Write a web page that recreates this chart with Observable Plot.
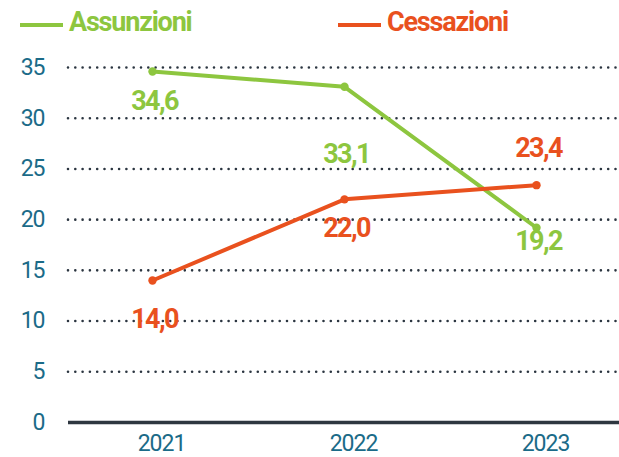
<!DOCTYPE html>
<html>
<head>
<meta charset="utf-8">
<script src="https://cdn.jsdelivr.net/npm/d3@7"></script>
<script src="https://cdn.jsdelivr.net/npm/@observablehq/plot@0.6"></script>
<style>
  body { margin: 0; background: #fff; font-family: Roboto, sans-serif; }
  #legend { position: relative; height: 45px; width: 619px; }
  .sw { position: absolute; height: 4px; top: 23px; }
  .lt { position: absolute; top: 9px; font-size: 27px; line-height: 27px; font-weight: bold; white-space: nowrap; letter-spacing: -1.2px; }
  svg { display: block; }
  svg g[aria-label="text"] text { letter-spacing: -1.6px; }
  svg g[aria-label="x-axis tick label"] text, svg g[aria-label="y-axis tick label"] text { letter-spacing: -1px; }
</style>
</head>
<body>
<div id="legend"></div>
<div id="chart"></div>
<script>
const years = ["2021", "2022", "2023"];
const assunzioni = [34.6, 33.1, 19.2];
const cessazioni = [14.0, 22.0, 23.4];
const seriesNames = ["Assunzioni", "Cessazioni"];
const yTicks = [0, 5, 10, 15, 20, 25, 30, 35];

const colors = {Assunzioni: "#8dc63f", Cessazioni: "#e9511e"};
// label vertical offsets (px) relative to each point
const labelDy = {Assunzioni: [30, 68, 14], Cessazioni: [39, 29, -37]};

const data = [];
years.forEach((yr, i) => {
  data.push({year: yr, series: "Assunzioni", value: assunzioni[i], i});
  data.push({year: yr, series: "Cessazioni", value: cessazioni[i], i});
});
const fmt = v => v.toFixed(1).replace(".", ",");

// legend
const legend = document.getElementById("legend");
const legendPos = [{line: 20, text: 69}, {line: 338, text: 387}];
seriesNames.forEach((s, k) => {
  const sw = document.createElement("div");
  sw.className = "sw";
  sw.style.left = legendPos[k].line + "px";
  sw.style.width = "43px";
  sw.style.background = colors[s];
  legend.appendChild(sw);
  const t = document.createElement("div");
  t.className = "lt";
  t.style.left = legendPos[k].text + "px";
  t.style.color = colors[s];
  t.textContent = s;
  legend.appendChild(t);
});

const labelMarks = seriesNames.flatMap(s => years.map((yr, i) =>
  Plot.text(data.filter(d => d.series === s && d.i === i), {
    x: "year", y: "value", text: d => fmt(d.value),
    dy: labelDy[s][i], dx: 2,
    fill: colors[s], fontSize: 27, fontWeight: "bold"
  })
));

const chart = Plot.plot({
  width: 619,
  height: 412,
  marginTop: 22,
  marginBottom: 35,
  marginLeft: 68,
  marginRight: 0,
  style: {fontFamily: "Roboto, sans-serif", background: "#fff"},
  x: {type: "point", domain: years, padding: 0.431, label: null},
  y: {domain: [0, 35], label: null},
  marks: [
    Plot.ruleY(yTicks.filter(t => t > 0), {
      stroke: "#2b3540", strokeWidth: 2.6, strokeDasharray: "0 7.3", strokeLinecap: "round"
    }),
    Plot.ruleY([0], {stroke: "#2e3740", strokeWidth: 3.5}),
    Plot.axisY({ticks: yTicks, tickSize: 0, tickPadding: 24, fontSize: 23, color: "#1b6b88", label: null}),
    Plot.axisX({tickSize: 0, tickPadding: 12, fontSize: 23, color: "#1b6b88", dx: 9, label: null}),
    Plot.line(data, {x: "year", y: "value", z: "series", stroke: d => colors[d.series], strokeWidth: 4}),
    Plot.dot(data, {x: "year", y: "value", fill: d => colors[d.series], r: 4.2}),
    ...labelMarks
  ]
});
document.getElementById("chart").appendChild(chart);
</script>
</body>
</html>
